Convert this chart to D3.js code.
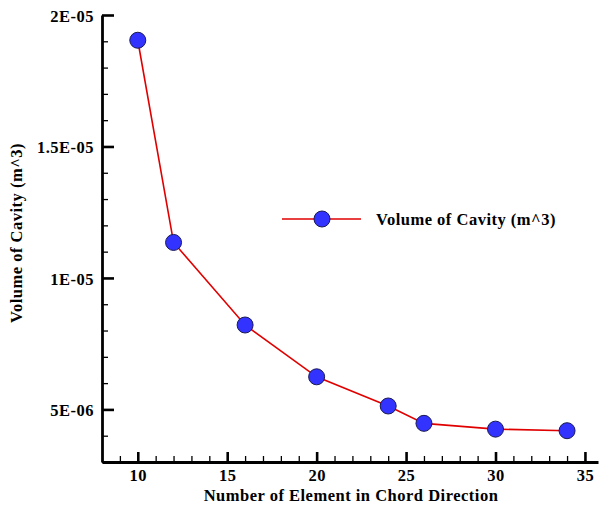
<!DOCTYPE html>
<html>
<head>
<meta charset="utf-8">
<script src="https://cdn.jsdelivr.net/npm/d3@7"></script>
<style>
  html, body { margin: 0; padding: 0; background: #fff; }
  svg { display: block; }
  text { font-family: "Liberation Serif", "Times New Roman", serif; font-weight: bold; }
</style>
</head>
<body>
<svg id="chart" width="599" height="510"></svg>
<script>
// ---- data ----
const elements = [10, 12, 16, 20, 24, 26, 30, 34];
const volumes = [1.904e-5, 1.135e-5, 8.21e-6, 6.24e-6, 5.13e-6, 4.47e-6, 4.25e-6, 4.19e-6];
const seriesName = "Volume of Cavity (m^3)";
const xMajorTicks = [10, 15, 20, 25, 30, 35];
const yMajorTicks = [5e-6, 1e-5, 1.5e-5, 2e-5];
const yTickLabels = ["5E-06", "1E-05", "1.5E-05", "2E-05"];
const xTitle = "Number of Element in Chord Direction";
const yTitle = "Volume of Cavity (m^3)";

const FS = "16.5px", LS = "0.5px";

const svg = d3.select("#chart");
const x = d3.scaleLinear().domain([8, 35.73]).range([102, 598]);
const y = d3.scaleLinear().domain([3e-6, 2e-5]).range([462, 15]);

const xMinor = d3.range(9, 36, 1).filter(v => !xMajorTicks.includes(v));
const yMinor = d3.range(3, 21, 1).map(v => v * 1e-6).filter(v => !yMajorTicks.some(t => Math.abs(t - v) < 1e-9));

// minor ticks
svg.append("g").attr("transform", `translate(0,${y.range()[0]})`)
  .call(d3.axisBottom(x).tickValues(xMinor).tickSize(-6).tickSizeOuter(0).tickFormat(""))
  .call(g => g.select(".domain").remove())
  .call(g => g.selectAll("line").attr("stroke", "#000").attr("stroke-width", 1.3));
svg.append("g").attr("transform", `translate(${x.range()[0]},0)`)
  .call(d3.axisLeft(y).tickValues(yMinor).tickSize(-6).tickSizeOuter(0).tickFormat(""))
  .call(g => g.select(".domain").remove())
  .call(g => g.selectAll("line").attr("stroke", "#000").attr("stroke-width", 1.3));

// major axes
const xAxis = svg.append("g").attr("transform", `translate(0,${y.range()[0]})`)
  .call(d3.axisBottom(x).tickValues(xMajorTicks).tickSize(-10).tickSizeOuter(0).tickPadding(8).tickFormat(d3.format("d")));
const yAxis = svg.append("g").attr("transform", `translate(${x.range()[0]},0)`)
  .call(d3.axisLeft(y).tickValues(yMajorTicks).tickSize(-12).tickSizeOuter(0).tickPadding(8)
    .tickFormat((d, i) => yTickLabels[i]));

[xAxis, yAxis].forEach(g => {
  g.select(".domain").attr("stroke", "#000").attr("stroke-width", 2.8);
  g.selectAll(".tick line").attr("stroke", "#000").attr("stroke-width", 2.6);
  g.selectAll(".tick text").attr("fill", "#000")
    .style("font-family", '"Liberation Serif", serif').style("font-weight", "bold")
    .style("font-size", FS).style("letter-spacing", LS);
});
xAxis.selectAll(".tick text").attr("y", 7).attr("dy", "0.71em");
yAxis.selectAll(".tick text").attr("dy", "0.38em");

// line
const line = d3.line().x((d, i) => x(elements[i])).y(d => y(d));
svg.append("path").datum(volumes)
  .attr("d", line).attr("fill", "none").attr("stroke", "#e00000").attr("stroke-width", 1.6);

// markers
svg.append("g").selectAll("circle").data(volumes).join("circle")
  .attr("cx", (d, i) => x(elements[i])).attr("cy", d => y(d)).attr("r", 8)
  .attr("fill", "#3333ff").attr("stroke", "#1a1a55").attr("stroke-width", 1);

// titles
svg.append("text").attr("x", 351).attr("y", 501).attr("text-anchor", "middle")
  .style("font-size", FS).style("letter-spacing", LS).text(xTitle);
svg.append("text").attr("transform", "translate(22,233) rotate(-90)").attr("text-anchor", "middle")
  .style("font-size", FS).style("letter-spacing", LS).text(yTitle);

// legend
const lg = svg.append("g").attr("transform", "translate(282,219)");
lg.append("line").attr("x1", 0).attr("x2", 79).attr("y1", 0).attr("y2", 0)
  .attr("stroke", "#e00000").attr("stroke-width", 1.6);
lg.append("circle").attr("cx", 40).attr("cy", 0).attr("r", 8)
  .attr("fill", "#3333ff").attr("stroke", "#1a1a55").attr("stroke-width", 1);
lg.append("text").attr("x", 94).attr("y", 5.5)
  .style("font-size", FS).style("letter-spacing", LS).text(seriesName);
</script>
</body>
</html>
